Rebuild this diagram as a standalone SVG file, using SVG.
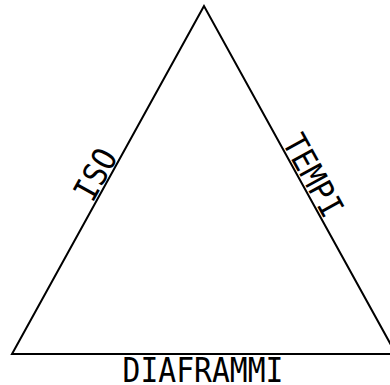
<svg xmlns="http://www.w3.org/2000/svg" width="390" height="385" viewBox="0 0 390 385">
<style>
.edge{fill:none;stroke:#000;stroke-width:2;stroke-linejoin:miter}
.lbl{font-family:"DejaVu Sans Mono","Liberation Mono",monospace;font-size:33px;fill:#000;text-anchor:middle}
</style>
<rect width="390" height="385" fill="#fff"/>
<g id="connectors">
<polygon class="edge" points="204,6 12,354 396,354"/>
</g>
<g id="iso"><text class="lbl" transform="translate(105.5,180) rotate(-61.1) scale(0.9,1)">ISO</text></g>
<g id="tempi"><text class="lbl" transform="translate(303,181) rotate(61.1) scale(0.9,1)">TEMPI</text></g>
<g id="diaframmi"><text class="lbl" transform="translate(203,381.5) scale(0.9,1)">DIAFRAMMI</text></g>
</svg>
